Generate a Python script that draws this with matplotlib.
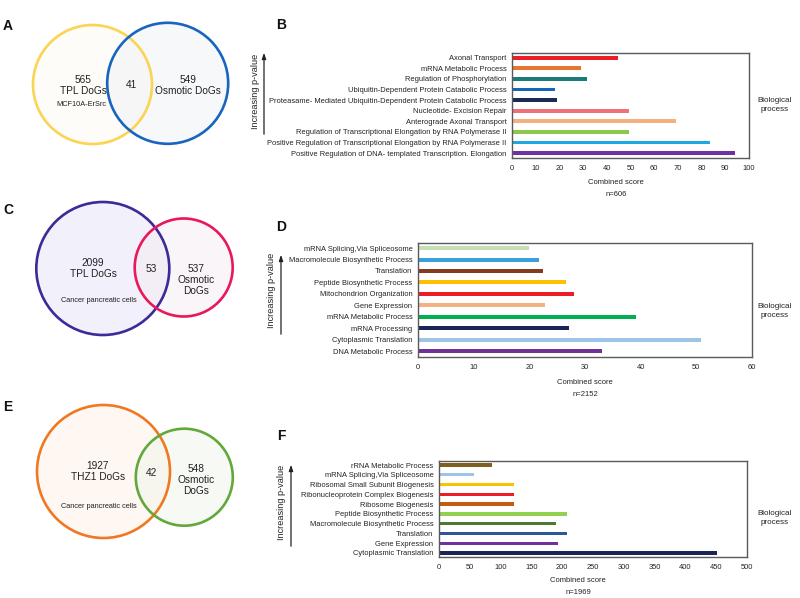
import matplotlib
matplotlib.use("Agg")
import matplotlib.pyplot as plt
from matplotlib.patches import Circle

plt.rcParams['font.family'] = ['Liberation Sans', 'DejaVu Sans']

W, H = 800, 598

# ---------------- data ----------------
b_terms = ["Axonal Transport", "mRNA Metabolic Process", "Regulation of Phosphorylation",
           "Ubiquitin-Dependent Protein Catabolic Process",
           "Proteasame- Mediated Ubiquitin-Dependent Protein Catabolic Process",
           "Nucleotide- Excision Repair", "Anterograde Axonal Transport",
           "Regulation of Transcriptional Elongation by RNA Polymerase II",
           "Positive Regulation of Transcriptional Elongation by RNA Polymerase II",
           "Positive Regulation of DNA- templated Transcription. Elongation"]
b_scores = [44.6, 29.2, 31.7, 18.0, 19.1, 49.4, 69.0, 49.4, 83.5, 94.1]
b_colors = ["#ee1c25", "#e87530", "#1a7b78", "#1565b8", "#1a2a55",
            "#f07078", "#f5b080", "#8cc84b", "#1ea7e0", "#7030a0"]
b_ticks = [0, 10, 20, 30, 40, 50, 60, 70, 80, 90, 100]
b_n = "n=606"

d_terms = ["mRNA Splicing,Via Spliceosome", "Macromolecule Biosynthetic Process", "Translation",
           "Peptide Biosynthetic Process", "Mitochondrion Organization", "Gene Expression",
           "mRNA Metabolic Process", "mRNA Processing", "Cytoplasmic Translation",
           "DNA Metabolic Process"]
d_scores = [19.9, 21.7, 22.5, 26.5, 28.0, 22.8, 39.2, 27.1, 50.8, 33.0]
d_colors = ["#c5e0b4", "#3aa0dc", "#843c1c", "#ffc000", "#ee1c25",
            "#f4b183", "#00b050", "#1a2458", "#9dc3e6", "#6f3198"]
d_ticks = [0, 10, 20, 30, 40, 50, 60]
d_n = "n=2152"

f_terms = ["rRNA Metabolic Process", "mRNA Splicing,Via Spliceosome",
           "Ribosomal Small Subunit Biogenesis", "Ribonucleoprotein Complex Biogenesis",
           "Ribosome Biogenesis", "Peptide Biosynthetic Process",
           "Macromolecule Biosynthetic Process", "Translation", "Gene Expression",
           "Cytoplasmic Translation"]
f_scores = [86.6, 57.6, 122, 121, 121, 208, 190, 207, 193, 452]
f_colors = ["#7f6020", "#9dc3e6", "#ffc000", "#ee1c25", "#c55a11",
            "#92d050", "#4e7a30", "#2f5597", "#7030a0", "#1a2458"]
f_ticks = [0, 50, 100, 150, 200, 250, 300, 350, 400, 450, 500]
f_n = "n=1969"

venn_a = ["565", "41", "549"]
venn_c = ["2099", "53", "537"]
venn_e = ["1927", "42", "548"]

# ---------------- figure ----------------
fig = plt.figure(figsize=(W / 100, H / 100), dpi=100)
fig.patch.set_facecolor("white")


def rect(l, t, r, b):
    return [l / W, 1 - b / H, (r - l) / W, (b - t) / H]


# overlay axes in pixel coordinates for venns and annotations
ov = fig.add_axes([0, 0, 1, 1])
ov.set_xlim(0, W)
ov.set_ylim(H, 0)
ov.axis("off")


def bar_panel(box, terms, scores, colors, ticks, ylim, height):
    ax = fig.add_axes(rect(*box))
    y = list(range(len(terms)))
    ax.barh(y, scores, height=height, color=colors)
    ax.set_ylim(*ylim)
    ax.set_xlim(ticks[0], ticks[-1])
    ax.set_yticks(y)
    ax.set_yticklabels(terms, fontsize=5.4, color="#222222")
    ax.set_xticks(ticks)
    ax.set_xticklabels([str(t) for t in ticks], fontsize=5.4, color="#222222")
    ax.tick_params(axis="both", length=0)
    ax.tick_params(axis="y", pad=4)
    ax.tick_params(axis="x", pad=5)
    for s in ax.spines.values():
        s.set_color("#5a5a5a")
        s.set_linewidth(1.0)
    return ax


bar_panel((512, 53, 749, 158), b_terms, b_scores, b_colors, b_ticks, (9.47, -0.45), 0.36)
bar_panel((418, 243, 752, 357), d_terms, d_scores, d_colors, d_ticks, (9.5, -0.44), 0.35)
bar_panel((439, 461, 747, 557), f_terms, f_scores, f_colors, f_ticks, (9.41, -0.41), 0.34)

txt = dict(ha="center", va="center", color="#222222")

# axis titles / n
ov.text(616, 183, "Combined score", fontsize=5.5, **txt)
ov.text(616, 195, b_n, fontsize=5.5, **txt)
ov.text(585, 383, "Combined score", fontsize=5.5, **txt)
ov.text(585, 395, d_n, fontsize=5.5, **txt)
ov.text(578, 581, "Combined score", fontsize=5.5, **txt)
ov.text(578, 592, f_n, fontsize=5.5, **txt)

# Biological process
for yy in (105, 311, 518):
    ov.text(775, yy, "Biological\nprocess", fontsize=5.8, linespacing=1.25, **txt)

# Increasing p-value arrows
for xa, xt, y0, y1, yt in ((264, 255, 137, 50, 91), (281, 272, 337, 252, 290), (291, 282, 549, 462, 502)):
    ov.annotate("", xy=(xa, y1), xytext=(xa, y0),
                arrowprops=dict(arrowstyle="-|>,head_length=0.35,head_width=0.12",
                                color="#222222", lw=0.9))
    ov.text(xt, yt, "Increasing p-value", rotation=90, fontsize=6.6, **txt)

# panel labels
for lab, x, yy in (("A", 8, 26), ("B", 281, 25), ("C", 8, 210), ("D", 281, 227), ("E", 8, 407), ("F", 281, 436)):
    ov.text(x, yy, lab, fontsize=10, fontweight="bold", ha="center", va="center", color="#111111")


def venn(c1, c2, ec1, ec2, fc1, fc2):
    (x1, y1, r1), (x2, y2, r2) = c1, c2
    ov.add_patch(Circle((x1, y1), r1, facecolor=fc1, edgecolor="none", zorder=1))
    ov.add_patch(Circle((x2, y2), r2, facecolor=fc2, edgecolor="none", zorder=1))
    ov.add_patch(Circle((x1, y1), r1, facecolor="none", edgecolor=ec1, linewidth=1.9, zorder=3))
    ov.add_patch(Circle((x2, y2), r2, facecolor="none", edgecolor=ec2, linewidth=1.9, zorder=3))


# Venn A
venn((92.5, 84.5, 59.5), (167.7, 83.3, 60.5), "#fbd453", "#1765be",
     (0.99, 0.98, 0.95, 0.5), (0.94, 0.95, 0.97, 0.5))
ov.text(83, 80, venn_a[0], fontsize=7.3, **txt)
ov.text(83, 91, "TPL DoGs", fontsize=7.3, **txt)
ov.text(81, 105, "MCF10A-ErSrc", fontsize=5.3, **txt)
ov.text(131, 85, venn_a[1], fontsize=7.3, **txt)
ov.text(188, 80, venn_a[2], fontsize=7.3, **txt)
ov.text(188, 91, "Osmotic DoGs", fontsize=7.3, **txt)

# Venn C
venn((102.8, 268.5, 66.5), (183.7, 267.5, 49), "#3b2a98", "#e8185a",
     (0.95, 0.94, 0.98, 1), (0.96, 0.92, 0.95, 0.45))
ov.text(93, 263, venn_c[0], fontsize=7.3, **txt)
ov.text(93, 274, "TPL DoGs", fontsize=7.3, **txt)
ov.text(99, 301, "Cancer pancreatic cells", fontsize=5.3, **txt)
ov.text(151, 269, venn_c[1], fontsize=7.3, **txt)
ov.text(196, 269, venn_c[2], fontsize=7.3, **txt)
ov.text(196, 280, "Osmotic", fontsize=7.3, **txt)
ov.text(196, 291, "DoGs", fontsize=7.3, **txt)

# Venn E
venn((103.5, 471.5, 66.5), (184.3, 477.2, 48.5), "#f07822", "#62a83a",
     (0.995, 0.97, 0.95, 1), (0.94, 0.96, 0.92, 0.5))
ov.text(98, 466, venn_e[0], fontsize=7.3, **txt)
ov.text(98, 477, "THZ1 DoGs", fontsize=7.3, **txt)
ov.text(99, 506, "Cancer pancreatic cells", fontsize=5.3, **txt)
ov.text(151, 473, venn_e[1], fontsize=7.3, **txt)
ov.text(196, 469, venn_e[2], fontsize=7.3, **txt)
ov.text(196, 480, "Osmotic", fontsize=7.3, **txt)
ov.text(196, 491, "DoGs", fontsize=7.3, **txt)

fig.savefig("out.png", dpi=100, facecolor="white")
